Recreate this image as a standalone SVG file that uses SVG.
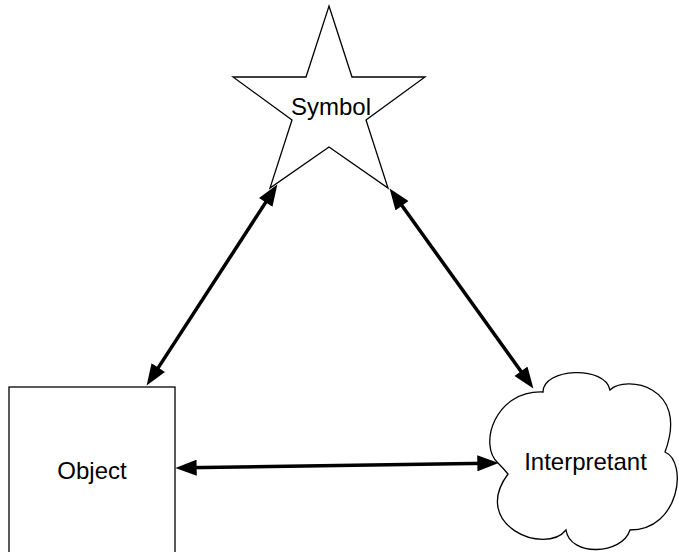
<svg xmlns="http://www.w3.org/2000/svg" width="679" height="552" viewBox="0 0 679 552">
  <style>
    .shape { fill: #ffffff; stroke: #000000; stroke-width: 1.3; stroke-linejoin: miter; }
    .label { font-family: "Liberation Sans", Arial, Helvetica, sans-serif; font-size: 24px; fill: #000000; text-anchor: middle; }
    .conn { fill: none; stroke: #000000; stroke-width: 3.5; }
  </style>
  <defs>
    <marker id="arrow" markerUnits="userSpaceOnUse" markerWidth="22" markerHeight="16" viewBox="0 0 20 15" refX="10" refY="7.5" orient="auto-start-reverse">
      <path d="M0,0 L20,7.5 L0,15 Z" fill="#000000"/>
    </marker>
  </defs>
  <rect width="679" height="552" fill="#ffffff"/>

  <g id="node-symbol">
    <polygon class="shape" points="329,6 352,77 425,77 366,120 388,188 329,147 270,188 292,120 233,77 306,77"/>
    <text class="label" x="331" y="115">Symbol</text>
  </g>

  <g id="node-object">
    <rect class="shape" x="9" y="387" width="166" height="170"/>
    <text class="label" x="92" y="479">Object</text>
  </g>

  <g id="node-interpretant">
    <path class="shape" d="M498,463 C478,445 495,390 543,392 C543,368 605,365 610,390 C625,375 690,385 665,452 C688,462 680,530 630,530 C622,555 570,557 566,530 C545,556 470,525 508,474 Q503,468 498,463 Z"/>
    <text class="label" x="585.5" y="470">Interpretant</text>
  </g>

  <g id="connectors">
    <line class="conn" x1="152.45" y1="376.6" x2="271.55" y2="193.4" marker-start="url(#arrow)" marker-end="url(#arrow)"/>
    <line class="conn" x1="395.8" y1="197.1" x2="527.2" y2="379.9" marker-start="url(#arrow)" marker-end="url(#arrow)"/>
    <line class="conn" x1="186" y1="467.84" x2="488" y2="463.16" marker-start="url(#arrow)" marker-end="url(#arrow)"/>
  </g>
</svg>
